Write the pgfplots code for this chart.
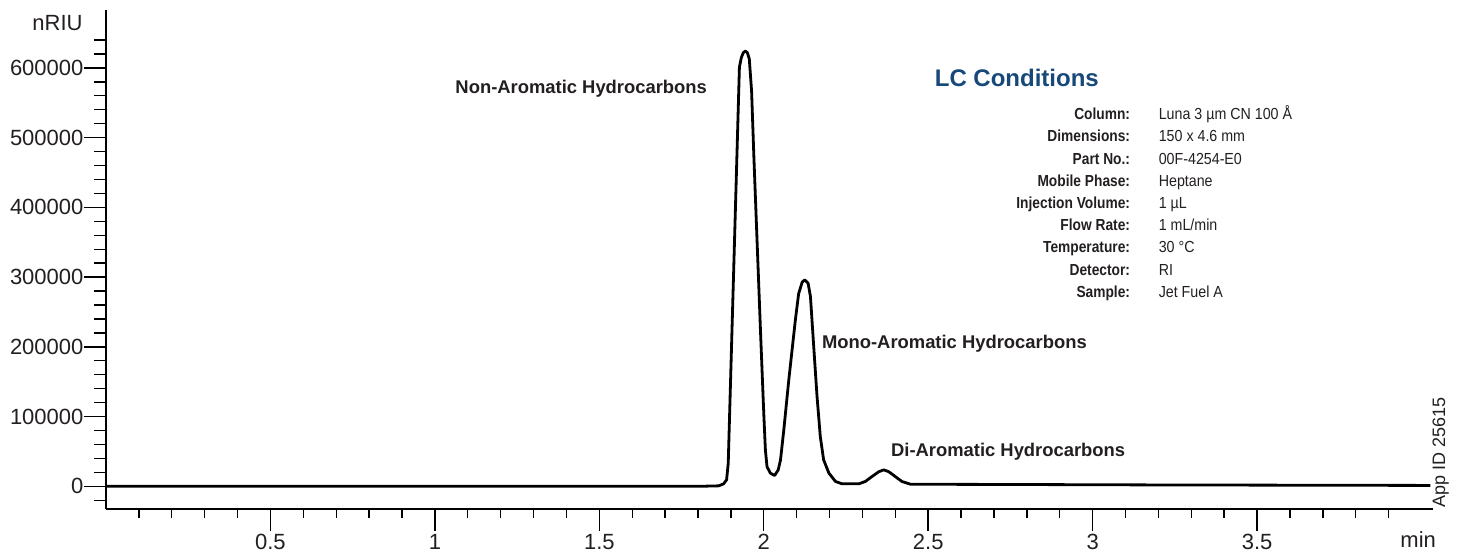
\documentclass[border=0pt]{standalone}
\usepackage{fontspec}
\setmainfont{Liberation Sans}
\newfontfamily\condB{Liberation Sans}[FakeStretch=0.86]
\newfontfamily\condR{Liberation Sans}[FakeStretch=0.89]
\usepackage{pgfplots}
\usepackage{pgfplotstable}
\pgfplotsset{compat=1.18}
\definecolor{lcblue}{RGB}{22,72,122}
\definecolor{txt}{RGB}{35,31,32}

\pgfplotstableread{
t v
0.000 0
1.000 0
1.802 0
1.863 700
1.878 3600
1.887 9300
1.892 33000
1.899 150000
1.909 317000
1.919 484000
1.926 601000
1.932 615000
1.938 622000
1.944 624000
1.950 622000
1.956 613000
1.963 567000
1.970 472000
1.980 348000
1.990 224000
2.000 105000
2.005 52000
2.010 28000
2.020 19000
2.033 15500
2.044 23600
2.051 38000
2.061 81000
2.076 152000
2.096 238000
2.106 276000
2.117 293000
2.125 296000
2.135 291000
2.142 272000
2.152 200000
2.162 129000
2.172 71000
2.182 38000
2.198 19000
2.218 7000
2.238 3600
2.289 3600
2.309 7000
2.329 14000
2.350 21000
2.365 23600
2.380 21000
2.400 14000
2.420 7000
2.446 3000
2.714 2700
3.200 2000
4.027 1300
}\trace

\newcommand\condlab[3]{%
  \node[anchor=base east, inner sep=0pt, font=\condB\bfseries\fontsize{8}{9}\selectfont, text=txt] at (axis cs:3.115,#1) {#2};
  \node[anchor=base west, inner sep=0pt, font=\condR\fontsize{8}{9}\selectfont, text=txt] at (axis cs:3.200,#1) {#3};}

\begin{document}
\begin{tikzpicture}
\begin{axis}[
  at={(53pt,23.5pt)}, anchor=south west,
  width=663.5pt, height=249.5pt, scale only axis,
  xmin=0, xmax=4.035, ymin=-32500, ymax=683000,
  axis x line*=bottom, axis y line*=left,
  axis line style={-, line width=0.7pt, black},
  tick align=outside,
  major tick length=10.75pt,
  xtick={0.5,1,1.5,2,2.5,3,3.5},
  xticklabels={0.5,1,1.5,2,2.5,3,3.5},
  minor xtick={0.1,0.2,0.3,0.4,0.6,0.7,0.8,0.9,1.1,1.2,1.3,1.4,1.6,1.7,1.8,1.9,2.1,2.2,2.3,2.4,2.6,2.7,2.8,2.9,3.1,3.2,3.3,3.4,3.6,3.7,3.8,3.9},
  ytick={0,100000,200000,300000,400000,500000,600000},
  yticklabels={0,100000,200000,300000,400000,500000,600000},
  minor ytick={-20000,20000,40000,60000,80000,120000,140000,160000,180000,220000,240000,260000,280000,320000,340000,360000,380000,420000,440000,460000,480000,520000,540000,560000,580000,620000,640000},
  xtick style={line width=0.7pt, black, /pgfplots/minor tick length=4.5pt},
  ytick style={line width=0.7pt, black, /pgfplots/minor tick length=6pt},
  ticklabel style={font=\fontsize{11}{13}\selectfont, text=txt},
  xticklabel style={yshift=1.8pt},
  yticklabel style={xshift=3pt},
  clip=false,
]
\addplot[line width=1.4pt, black, line join=round] table[x=t,y=v]{\trace};

\node[anchor=base east, inner sep=0pt, font=\bfseries\fontsize{9.2}{11}\selectfont, text=txt] at (axis cs:1.8286,562600) {Non-Aromatic Hydrocarbons};
\node[anchor=base west, inner sep=0pt, font=\bfseries\fontsize{9.2}{11}\selectfont, text=txt] at (axis cs:2.176,198300) {Mono-Aromatic Hydrocarbons};
\node[anchor=base west, inner sep=0pt, font=\bfseries\fontsize{9.2}{11}\selectfont, text=txt] at (axis cs:2.386,42200) {Di-Aromatic Hydrocarbons};
\node[anchor=base west, font=\bfseries\fontsize{12}{14}\selectfont, text=lcblue, inner sep=0pt] at (axis cs:2.519,574000) {LC Conditions};

\condlab{525700}{Column:}{Luna 3 µm CN 100 Å}
\condlab{493846}{Dimensions:}{150 x 4.6 mm}
\condlab{461992}{Part No.:}{00F-4254-E0}
\condlab{430138}{Mobile Phase:}{Heptane}
\condlab{398284}{Injection Volume:}{1 µL}
\condlab{366430}{Flow Rate:}{1 mL/min}
\condlab{334576}{Temperature:}{30 °C}
\condlab{302722}{Detector:}{RI}
\condlab{270868}{Sample:}{Jet Fuel A}

\node[anchor=base, inner sep=0pt, font=\fontsize{11}{13}\selectfont, text=txt] at ([yshift=-19.5pt]axis cs:3.99,-32500) {min};
\node[anchor=east, inner sep=0pt, font=\fontsize{11}{13}\selectfont, text=txt] at ([xshift=-11.5pt]axis cs:0,664100) {nRIU};
\end{axis}
\node[rotate=90, inner sep=0pt, font=\fontsize{9}{11}\selectfont, text=txt] at (720.3pt,51.75pt) {App ID 25615};
\pgfresetboundingbox
\path[use as bounding box] (0,0) rectangle (733pt,278pt);
\end{tikzpicture}
\end{document}
